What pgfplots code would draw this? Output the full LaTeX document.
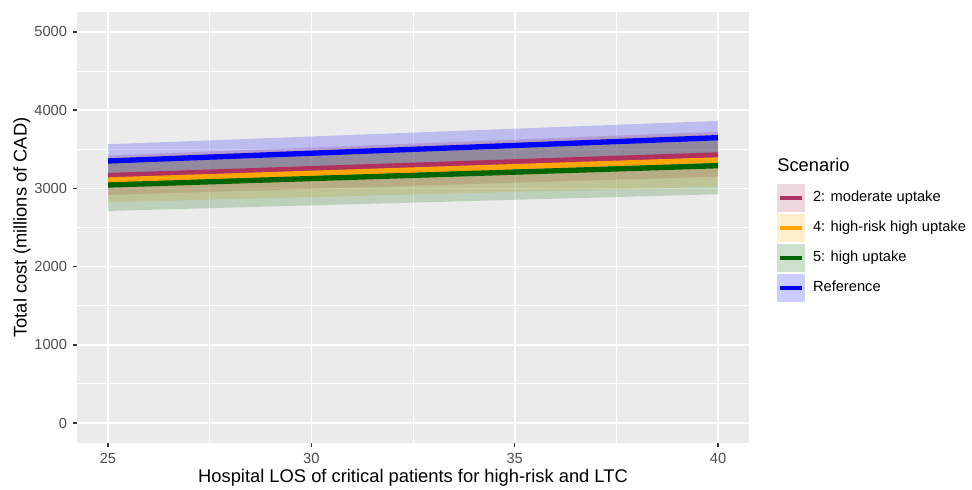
\documentclass[border=0pt]{standalone}
\usepackage{pgfplots}
\pgfplotsset{compat=1.18}
\usepackage{fontspec}
\setmainfont{Liberation Sans}
\definecolor{panelgrey}{HTML}{EBEBEB}
\definecolor{tickgrey}{HTML}{333333}
\definecolor{labgrey}{HTML}{4D4D4D}
\definecolor{cmaroon}{HTML}{B03060}
\definecolor{corange}{HTML}{FFA500}
\definecolor{cgreen}{HTML}{006400}
\definecolor{cblue}{HTML}{0000FF}
\newcommand{\keyimg}[1]{%
  \addlegendimage{legend image code/.code={%
    \path[draw=none,fill=#1,fill opacity=0.2] (0pt,-8.4pt) rectangle (16.8pt,8.4pt);
    \path[draw=#1,line width=2.4pt] (1.6pt,0pt) -- (15.2pt,0pt);}}}
\begin{document}
\begin{tikzpicture}
\path[use as bounding box] (-46.5pt,-28.47pt) rectangle (536.7pt,265.53pt);
\begin{axis}[
  at={(0,0)}, anchor=south west,
  scale only axis, width=402.6pt, height=258.1pt,
  xmin=24.25, xmax=40.75, ymin=-250, ymax=5250,
  xtick={25,30,35,40}, ytick={0,1000,2000,3000,4000,5000},
  minor x tick num=1, minor y tick num=1,
  minor tick length=0pt, major tick length=2.75pt, tick align=outside,
  axis x line*=bottom, axis y line*=left,
  axis line style={draw=none},
  tick style={color=tickgrey, line width=0.9pt},
  axis background/.style={fill=panelgrey},
  grid=both,
  major grid style={white, line width=1.0pt},
  minor grid style={white, line width=0.5pt},
  ticklabel style={font=\fontsize{8.8}{10}\selectfont, text=labgrey},
  /pgf/number format/assume math mode=true,
  /pgf/number format/1000 sep={},
  xlabel={Hospital LOS of critical patients for high-risk and LTC},
  ylabel={Total cost (millions of CAD)},
  label style={font=\fontsize{11}{13}\selectfont},
  xlabel style={at={(axis description cs:0.5,-0.094)}, anchor=base, inner sep=0pt},
  ylabel style={at={(axis description cs:-0.0827,0.5)}, anchor=center, inner sep=0pt},
  legend cell align=left,
  legend style={at={([xshift=17.1pt,yshift=155.2pt]rel axis cs:1,0)}, anchor=north west,
    draw=none, fill=none, inner sep=0pt, outer sep=0pt, row sep=1.2pt,
    font=\fontsize{8.8}{10}\selectfont,
    nodes={inner sep=0pt},
    /tikz/every odd column/.append style={column sep=4.8pt}},
  clip=false,
]
% ribbons
\addplot[forget plot, draw=none, fill=cmaroon, fill opacity=0.2] coordinates {(25,3420) (40,3725) (40,3150) (25,2916)} -- cycle;
\addplot[forget plot, draw=none, fill=corange, fill opacity=0.2] coordinates {(25,3392) (40,3700) (40,3022) (25,2822)} -- cycle;
\addplot[forget plot, draw=none, fill=cgreen, fill opacity=0.2] coordinates {(25,3375) (40,3650) (40,2925) (25,2711)} -- cycle;
\addplot[forget plot, draw=none, fill=cblue, fill opacity=0.2] coordinates {(25,3564) (40,3862) (40,3434) (25,3140)} -- cycle;
% lines
\addplot[forget plot, cmaroon, line width=3.2pt] coordinates {(25,3163) (40,3427)};
\addplot[forget plot, corange, line width=3.2pt] coordinates {(25,3107) (40,3363)};
\addplot[forget plot, cgreen, line width=3.2pt] coordinates {(25,3043) (40,3290)};
\addplot[forget plot, cblue, line width=3.2pt] coordinates {(25,3350) (40,3648)};
% legend
\keyimg{cmaroon}\addlegendentry{2: moderate uptake}
\keyimg{corange}\addlegendentry{4: high-risk high uptake}
\keyimg{cgreen}\addlegendentry{5: high uptake}
\keyimg{cblue}\addlegendentry{Reference}
\node[anchor=west, inner sep=0pt, font=\fontsize{11}{13}\selectfont] at ([xshift=17.1pt,yshift=166.5pt]rel axis cs:1,0) {Scenario};
\end{axis}
\end{tikzpicture}
\end{document}
